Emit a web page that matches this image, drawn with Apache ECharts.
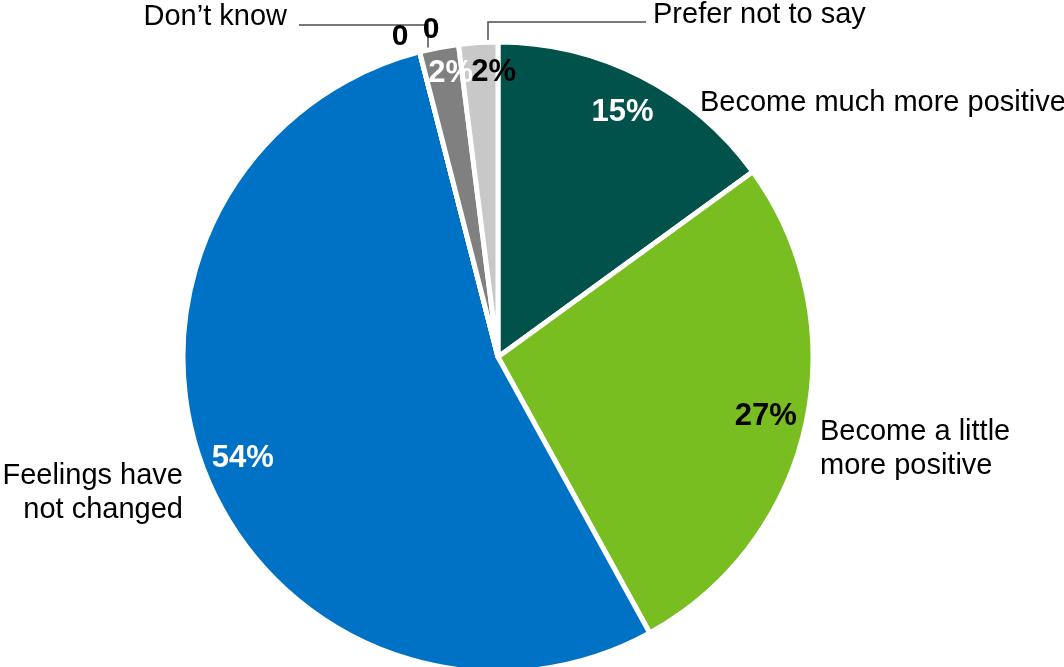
<!DOCTYPE html>
<html>
<head>
<meta charset="utf-8">
<script src="https://cdn.jsdelivr.net/npm/echarts@6.0.0/dist/echarts.min.js"></script>
<style>
  html, body { margin: 0; padding: 0; background: #fff; }
  #main { width: 1064px; height: 667px; }
</style>
</head>
<body>
<div id="main"></div>
<script>
// 饼图数据
var categories = ['Become much more positive', 'Become a little\nmore positive', 'Feelings have\nnot changed',
    'Become a little more negative', 'Become much more negative', 'Don\u2019t know', 'Prefer not to say'];
var values = [15, 27, 54, 0, 0, 2, 2];
var colors = ['#00524a', '#78be20', '#0072c6', '#0072c6', '#0072c6', '#808080', '#c8c8c8'];
var pctColors = ['#fff', '#000', '#fff', '#000', '#000', '#fff', '#000'];

// 外部标签位置 [x, y, align]
var namePos = [
    [700, 103, 'left'],
    [820, 449, 'left'],
    [183, 493, 'right'],
    [400, 37, 'center'],
    [431, 30, 'center'],
    [287, 17, 'right'],
    [653, 15, 'left']
];
// 引导线
var leaderLines = {
    5: [[299, 25], [428, 25], [428, 50]],
    6: [[646, 22], [488, 22], [488, 45]]
};
// 两个小扇区百分比的微调
var pctShift = {5: [4, -14], 6: [13, -11]};

var font = 'Arial, "Liberation Sans", sans-serif';
var center = [498, 357];

var myChart = echarts.init(document.getElementById('main'));

var mainData = values.map(function (v, i) {
    return {
        name: categories[i],
        value: v,
        itemStyle: { color: colors[i] },
        labelLine: { show: !!leaderLines[i], lineStyle: { color: '#4d4d4d', width: 1.5 } }
    };
});

var ringData = values.map(function (v, i) {
    return {
        name: categories[i],
        value: v,
        label: { color: pctColors[i] }
    };
});

option = {
    animation: false,
    series: [
        {
            name: 'feelings',
            type: 'pie',
            center: center,
            radius: [0, 315],
            startAngle: 90,
            clockwise: true,
            avoidLabelOverlap: false,
            silent: true,
            itemStyle: { borderColor: '#fff', borderWidth: 5 },
            label: {
                show: true,
                position: 'outside',
                color: '#000',
                fontFamily: font,
                fontSize: 29,
                lineHeight: 34,
                formatter: function (p) {
                    return p.value === 0 ? '{z|0}' : p.name;
                },
                rich: {
                    z: { fontSize: 30, fontWeight: 'bold', fontFamily: font, color: '#000' }
                }
            },
            labelLine: { show: false },
            labelLayout: function (p) {
                var pos = namePos[p.dataIndex];
                var out = { x: pos[0], y: pos[1], align: pos[2], verticalAlign: 'middle' };
                if (leaderLines[p.dataIndex]) out.labelLinePoints = leaderLines[p.dataIndex];
                return out;
            },
            data: mainData
        },
        {
            name: 'pct',
            type: 'pie',
            center: center,
            radius: [228, 315],
            startAngle: 90,
            clockwise: true,
            silent: true,
            avoidLabelOverlap: false,
            itemStyle: { color: 'rgba(0,0,0,0)' },
            label: {
                show: true,
                position: 'inside',
                fontFamily: font,
                fontSize: 31,
                fontWeight: 'bold',
                formatter: function (p) { return p.value === 0 ? '' : p.value + '%'; }
            },
            labelLine: { show: false },
            labelLayout: function (p) {
                var s = pctShift[p.dataIndex];
                return s ? { dx: s[0], dy: s[1] } : {};
            },
            data: ringData
        }
    ]
};

myChart.setOption(option);
</script>
</body>
</html>
